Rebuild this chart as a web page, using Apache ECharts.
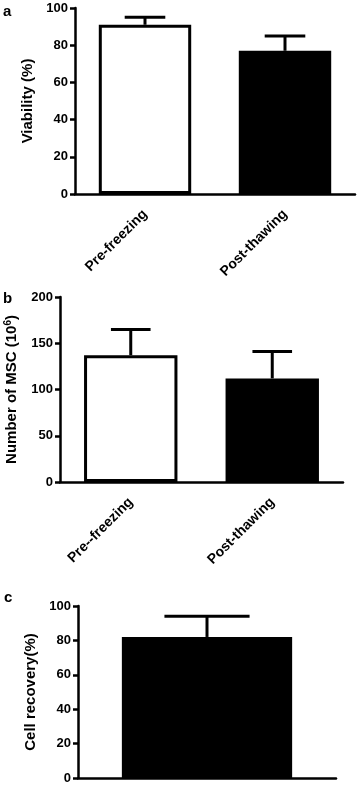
<!DOCTYPE html>
<html>
<head>
<meta charset="utf-8">
<script src="https://cdn.jsdelivr.net/npm/echarts@6/dist/echarts.min.js"></script>
<style>
  html, body { margin: 0; padding: 0; background: #fff; }
  #chart { width: 360px; height: 787px; }
</style>
</head>
<body>
<div id="chart"></div>
<script>
// panel a: viability
const catsA = ["Pre-freezing", "Post-thawing"];
const viabilityMean = [91, 77];
const viabilityUpper = [95, 85];
const ticksA = [0, 20, 40, 60, 80, 100];

// panel b: number of MSC (10^6)
const catsB = ["Pre--freezing", "Post-thawing"];
const mscMean = [137, 112];
const mscUpper = [165, 141];
const ticksB = [0, 50, 100, 150, 200];

// panel c: cell recovery
const catsC = [""];
const recoveryMean = [82];
const recoveryUpper = [94];
const ticksC = [0, 20, 40, 60, 80, 100];

const FONT = "'Liberation Sans', Arial, sans-serif";
const chart = echarts.init(document.getElementById("chart"));

const grids = [
  { left: 75, top: 8, width: 280, height: 186, outerBoundsMode: "none" },
  { left: 60, top: 297, width: 283, height: 185, outerBoundsMode: "none" },
  { left: 78, top: 606, width: 258, height: 172, outerBoundsMode: "none" }
];

function xAxisFor(idx, cats) {
  return {
    type: "category",
    gridIndex: idx,
    data: cats,
    axisLine: { lineStyle: { color: "#000", width: 2.5 } },
    axisTick: { alignWithLabel: true, length: 5, lineStyle: { color: "#000", width: 2.5 } },
    axisLabel: {
      rotate: 45, margin: 18, color: "#000",
      fontFamily: FONT, fontWeight: "bold", fontSize: 14
    }
  };
}

function yAxisFor(idx, ticks, name, gap, rich) {
  return {
    type: "value",
    gridIndex: idx,
    min: ticks[0],
    max: ticks[ticks.length - 1],
    interval: ticks[1] - ticks[0],
    name: name,
    nameLocation: "middle",
    nameGap: gap,
    nameTextStyle: {
      color: "#000", fontFamily: FONT, fontWeight: "bold", fontSize: 15,
      rich: rich
    },
    splitLine: { show: false },
    axisLine: { show: true, lineStyle: { color: "#000", width: 2.5 } },
    axisTick: { show: true, length: 5, lineStyle: { color: "#000", width: 2.5 } },
    axisLabel: {
      margin: 7, color: "#000",
      fontFamily: FONT, fontWeight: "bold", fontSize: 13
    }
  };
}

function barSeries(idx, means, colors) {
  return {
    type: "bar",
    xAxisIndex: idx,
    yAxisIndex: idx,
    barWidth: "66%",
    data: means.map((v, i) => ({
      value: v,
      itemStyle: { color: colors[i], borderColor: "#000", borderWidth: 3 }
    }))
  };
}

function errorSeries(idx, means, uppers, capFrac) {
  return {
    type: "custom",
    xAxisIndex: idx,
    yAxisIndex: idx,
    z: 3,
    data: means.map((m, i) => [i, m, uppers[i]]),
    renderItem: function (params, api) {
      const base = api.coord([api.value(0), api.value(1)]);
      const top = api.coord([api.value(0), api.value(2)]);
      const half = api.size([1, 0])[0] * capFrac / 2;
      const style = { stroke: "#000", lineWidth: 3 };
      return {
        type: "group",
        children: [
          { type: "line", shape: { x1: base[0], y1: base[1], x2: top[0], y2: top[1] }, style: style },
          { type: "line", shape: { x1: top[0] - half, y1: top[1], x2: top[0] + half, y2: top[1] }, style: style }
        ]
      };
    }
  };
}

const panelLetter = (text, x, y) => ({
  type: "text", left: x, top: y,
  style: { text: text, fill: "#000", font: "bold 15px " + FONT }
});

chart.setOption({
  animation: false,
  backgroundColor: "#fff",
  grid: grids,
  xAxis: [xAxisFor(0, catsA), xAxisFor(1, catsB), xAxisFor(2, catsC)],
  yAxis: [
    yAxisFor(0, ticksA, "Viability (%)", 38),
    yAxisFor(1, ticksB, "{t|Number of MSC (10}{s|6}{t|)}", 39, {
      t: { fontFamily: FONT, fontWeight: "bold", fontSize: 15, color: "#000" },
      s: { fontFamily: FONT, fontWeight: "bold", fontSize: 10, color: "#000", verticalAlign: "top", padding: [0, 0, 8, 0] }
    }),
    yAxisFor(2, ticksC, "Cell recovery(%)", 40)
  ],
  series: [
    barSeries(0, viabilityMean, ["#fff", "#000"]),
    errorSeries(0, viabilityMean, viabilityUpper, 0.29),
    barSeries(1, mscMean, ["#fff", "#000"]),
    errorSeries(1, mscMean, mscUpper, 0.28),
    barSeries(2, recoveryMean, ["#000"]),
    errorSeries(2, recoveryMean, recoveryUpper, 0.33)
  ],
  graphic: [
    panelLetter("a", 3, 4),
    panelLetter("b", 3, 291),
    panelLetter("c", 4, 590)
  ]
});
</script>
</body>
</html>
